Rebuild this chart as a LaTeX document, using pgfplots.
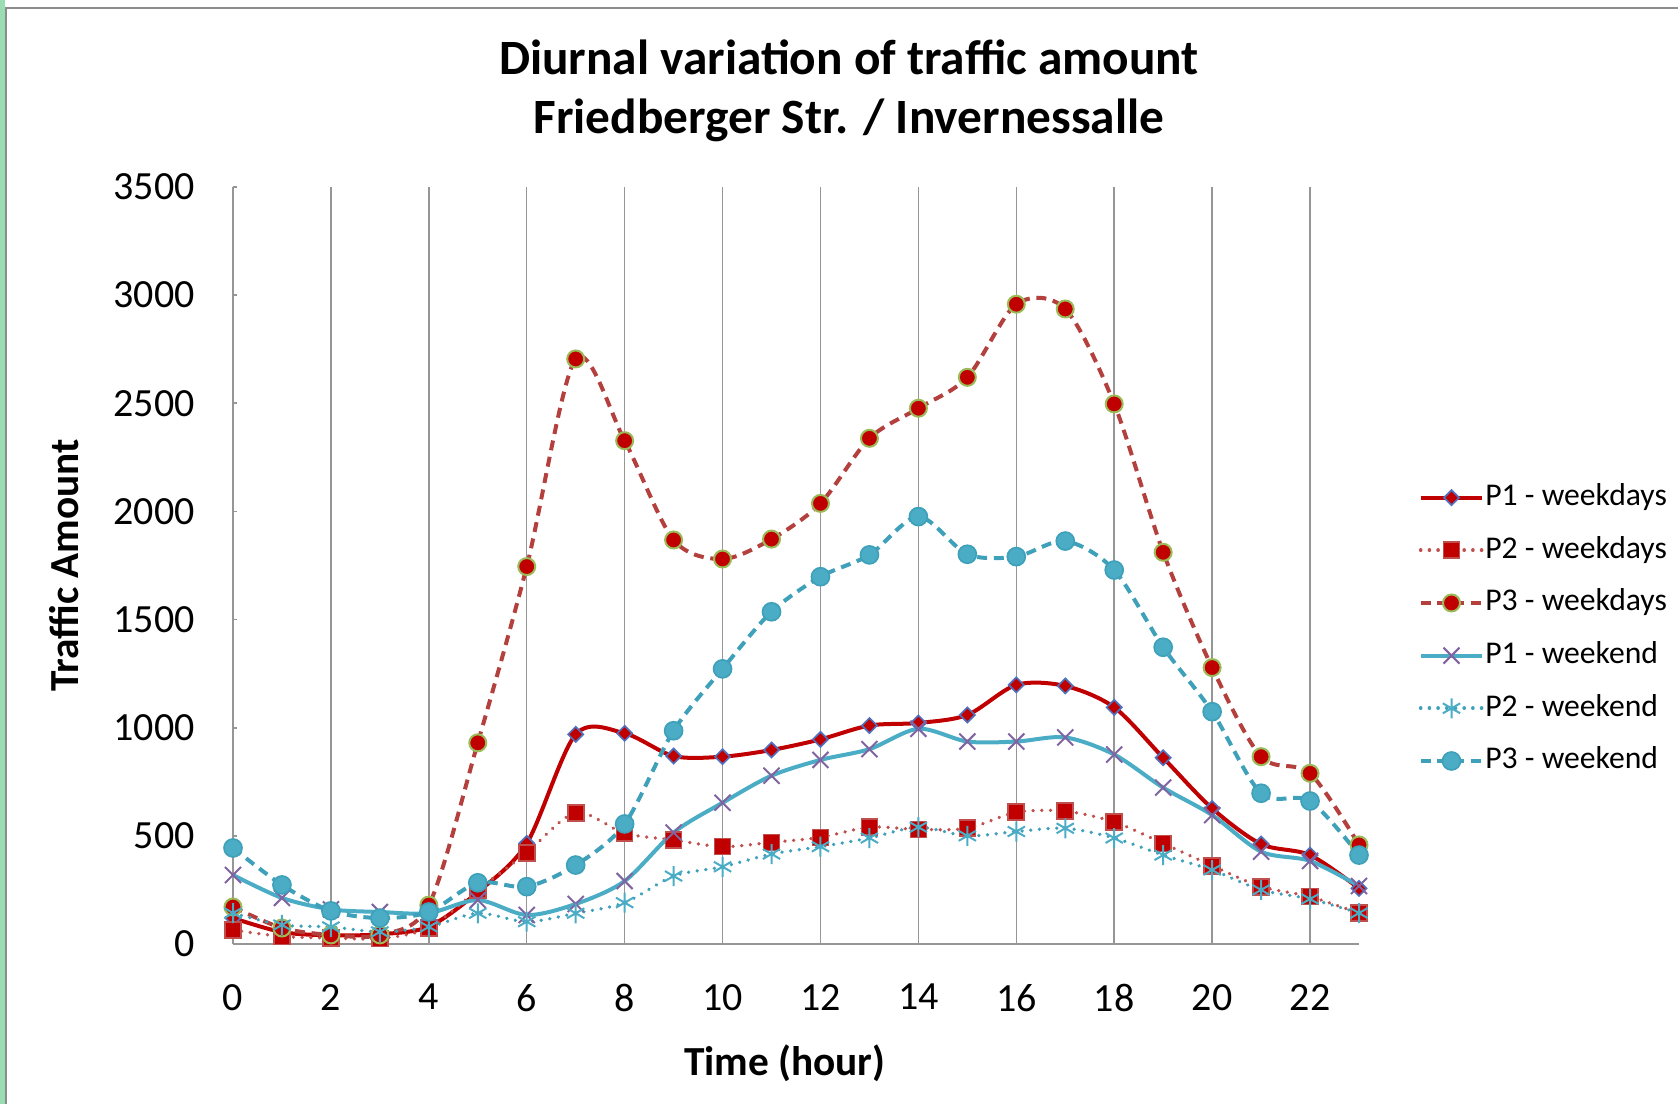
\documentclass[border=0pt]{standalone}
\usepackage{fontspec}
\setmainfont{Carlito}
\setsansfont{Carlito}
\usepackage{pgfplots}
\pgfplotsset{compat=1.18}
\definecolor{redA}{RGB}{192,0,0}
\definecolor{redB}{RGB}{192,80,77}
\definecolor{redC}{RGB}{180,64,62}
\definecolor{blueEdge}{RGB}{79,113,190}
\definecolor{olive}{RGB}{155,187,89}
\definecolor{aqua}{RGB}{75,172,198}
\definecolor{aquaD}{RGB}{63,160,186}
\definecolor{purp}{RGB}{128,100,162}
\definecolor{gridg}{RGB}{150,150,150}
\definecolor{frameg}{RGB}{140,140,140}
\definecolor{greenstrip}{RGB}{153,221,181}
\begin{document}
\begin{tikzpicture}
\path[use as bounding box] (0,0) rectangle (503.4pt,331.2pt);
\fill[greenstrip] (0,0) rectangle (1.5pt,331.2pt);
\draw[frameg,line width=0.6pt] (1.9pt,0) -- (1.9pt,328.8pt) -- (503.4pt,328.8pt);
\begin{axis}[
  at={(69.9pt,48pt)}, anchor=south west,
  scale only axis, width=337.8pt, height=227.1pt,
  xmin=0, xmax=23, ymin=0, ymax=3500,
  axis lines*=left,
  axis line style={gridg, line width=0.5pt},
  xtick={0,2,...,22}, ytick={0,500,...,3500},
  x tick style={draw=none},
  y tick style={gridg, line width=0.5pt},
  tick align=inside, major tick length=1.3pt,
  xmajorgrids, major grid style={gridg, line width=0.45pt},
  /pgf/number format/assume math mode=true,
  /pgf/number format/1000 sep={},
  tick label style={font=\fontsize{12}{14}\selectfont},
  xticklabel style={yshift=-8.5pt},
  yticklabel style={xshift=-8pt},
  xlabel={Time (hour)},
  ylabel={Traffic Amount},
  xlabel style={at={(axis description cs:0.49,-0.157)}, anchor=center, font=\bfseries\fontsize{12.4}{14}\selectfont},
  ylabel style={at={(axis description cs:-0.150,0.5)}, anchor=center, rotate=0, font=\bfseries\fontsize{12.4}{14}\selectfont},
  title={Diurnal variation of traffic amount\\Friedberger Str. / Invernessalle},
  title style={at={(axis description cs:0.547,1.100)}, anchor=center, align=center, font=\bfseries\fontsize{14.8}{17.7}\selectfont},
  legend cell align=left,
  legend style={at={(axis description cs:1.0524,0.4157)}, anchor=west, draw=none, fill=none,
    inner sep=0pt, font=\fontsize{9.5}{11}\selectfont,
    nodes={inner sep=0pt, text height=6.5pt, text depth=1.8pt},
    row sep=7.5pt,
    /tikz/every odd column/.append style={column sep=0.3pt}},
  legend image code/.code={\draw[mark repeat=2,mark phase=2] plot coordinates {(0pt,0pt) (9.25pt,0pt) (18.5pt,0pt)};},
  clip=false,
]
% P1 weekdays
\addplot[redA, line width=1.2pt, smooth, tension=0.5, mark=square*, mark size=1.6pt,
  mark options={solid, rotate=45, fill=redA, draw=blueEdge, line width=0.5pt}]
  coordinates {(0,120)(1,55)(2,40)(3,45)(4,80)(5,240)(6,465)(7,969)(8,974)(9,869)(10,866)(11,897)(12,946)(13,1010)(14,1022)(15,1059)(16,1198)(17,1193)(18,1094)(19,861)(20,627)(21,462)(22,411)(23,257)};
\addlegendentry{P1 - weekdays}
% P2 weekdays
\addplot[redB, line width=1.1pt, smooth, tension=0.5, line cap=round, dash pattern=on 0.01pt off 2.6pt, mark=square*, mark size=2.4pt,
  mark options={solid, fill=redA, draw=redB, line width=0.5pt}]
  coordinates {(0,65)(1,35)(2,28)(3,25)(4,75)(5,250)(6,422)(7,607)(8,512)(9,481)(10,450)(11,470)(12,493)(13,540)(14,530)(15,535)(16,609)(17,614)(18,564)(19,465)(20,362)(21,265)(22,219)(23,142)};
\addlegendentry{P2 - weekdays}
% P3 weekdays
\addplot[redC, line width=1.2pt, smooth, tension=0.5, dash pattern=on 3pt off 2pt, mark=*, mark size=2.55pt,
  mark options={solid, fill=redA, draw=olive, line width=0.6pt}]
  coordinates {(0,171)(1,74)(2,42)(3,42)(4,180)(5,930)(6,1745)(7,2705)(8,2327)(9,1868)(10,1780)(11,1872)(12,2037)(13,2338)(14,2477)(15,2620)(16,2958)(17,2936)(18,2497)(19,1811)(20,1278)(21,866)(22,789)(23,458)};
\addlegendentry{P3 - weekdays}
% P1 weekend
\addplot[aqua, line width=1.2pt, smooth, tension=0.5, mark=x, mark size=3.4pt,
  mark options={solid, draw=purp, line width=0.6pt}]
  coordinates {(0,319)(1,213)(2,160)(3,148)(4,143)(5,203)(6,134)(7,185)(8,291)(9,515)(10,653)(11,778)(12,851)(13,901)(14,995)(15,936)(16,936)(17,955)(18,876)(19,723)(20,596)(21,427)(22,384)(23,268)};
\addlegendentry{P1 - weekend}
% P2 weekend
\addplot[aquaD, line width=1.1pt, smooth, tension=0.5, line cap=round, dash pattern=on 0.01pt off 2.6pt, mark=asterisk, mark size=3pt,
  mark options={solid, draw=aqua, line width=0.6pt, line cap=butt}]
  coordinates {(0,143)(1,88)(2,79)(3,56)(4,79)(5,142)(6,103)(7,142)(8,191)(9,314)(10,357)(11,416)(12,450)(13,490)(14,540)(15,500)(16,520)(17,535)(18,490)(19,411)(20,342)(21,250)(22,208)(23,143)};
\addlegendentry{P2 - weekend}
% P3 weekend
\addplot[aquaD, line width=1.2pt, smooth, tension=0.5, dash pattern=on 3pt off 2pt, mark=*, mark size=2.7pt,
  mark options={solid, fill=aqua, draw=aquaD, line width=0.5pt}]
  coordinates {(0,444)(1,273)(2,153)(3,120)(4,148)(5,283)(6,265)(7,365)(8,555)(9,986)(10,1272)(11,1536)(12,1698)(13,1799)(14,1976)(15,1802)(16,1791)(17,1863)(18,1729)(19,1372)(20,1074)(21,697)(22,661)(23,411)};
\addlegendentry{P3 - weekend}
\end{axis}
\end{tikzpicture}
\end{document}
